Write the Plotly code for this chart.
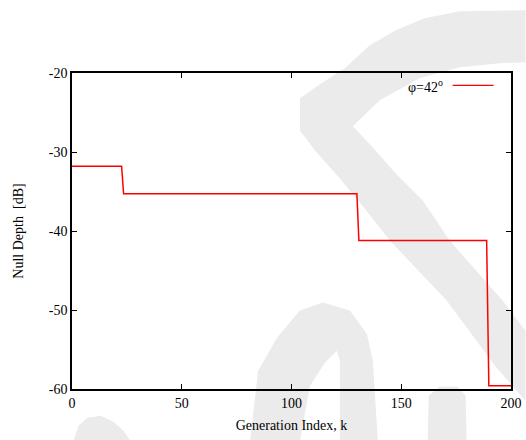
import plotly.graph_objects as go

# ---- data ----
generation_k = [0, 22.6, 23.5, 129.8, 130.7, 188.9, 189.9, 200]
null_depth_db = [-31.8, -31.8, -35.3, -35.3, -41.2, -41.2, -59.6, -59.6]
series_name = "φ=42<sup>o</sup>"
x_ticks = [0, 50, 100, 150, 200]
y_ticks = [-60, -50, -40, -30, -20]

W, H = 526, 440
ML, MR, MT, MB = 72, 15, 73, 51
# intended drawing box in page pixels (used for decorations)
BX0, BX1, BY0, BY1 = 71.5, 511.5, 72.7, 388.3

def to_paper(px, py):
    return (px - BX0) / (BX1 - BX0), (BY1 - py) / (BY1 - BY0)

def path(points):
    pts = [to_paper(x, y) for x, y in points]
    return "M " + " L ".join(f"{x:.4f},{y:.4f}" for x, y in pts) + " Z"

# background watermark (decoration)
wm_polys = [
    [(526, 10), (460, 11), (425, 18), (396, 30), (370, 45), (345, 68), (320, 84), (300, 98),
     (300, 130), (315, 150), (340, 178), (364, 207), (390, 240), (447, 300), (497, 367), (526, 400),
     (526, 330), (503, 300), (450, 240), (423, 200), (396, 173), (373, 147), (353, 126),
     (380, 100), (420, 78), (460, 67), (500, 63), (526, 62)],
    [(250, 440), (258, 370), (277, 337), (300, 310), (323, 302), (350, 310), (367, 333),
     (373, 360), (378, 440), (340, 440), (340, 360), (337, 350), (325, 362), (310, 385), (300, 440)],
    [(428, 440), (429, 395), (440, 386), (458, 386), (466, 395), (467, 440)],
    [(73, 440), (78, 425), (87, 417), (100, 415), (113, 421), (123, 430), (130, 440)],
]

shapes = [dict(type="path", xref="paper", yref="paper", path=path(p),
               fillcolor="#ebebeb", line=dict(width=0), layer="below") for p in wm_polys]

# legend sample line
lx0, ly = to_paper(453, 85)
lx1, _ = to_paper(494, 85)
shapes.append(dict(type="line", xref="paper", yref="paper", x0=lx0, x1=lx1, y0=ly, y1=ly,
                   line=dict(color="red", width=1.3)))
tx, ty = to_paper(445, 86)

fig = go.Figure()
fig.add_trace(go.Scatter(x=generation_k, y=null_depth_db, mode="lines",
                         line=dict(color="red", width=1.5), name=series_name,
                         showlegend=False))

font = dict(family="Liberation Serif", size=14, color="black")
axis_common = dict(showline=True, linecolor="black", linewidth=1.5, mirror="ticks",
                   ticks="inside", ticklen=5, tickwidth=1, tickcolor="black",
                   showgrid=False, zeroline=False, tickfont=font, automargin=False)

fig.update_layout(
    width=W, height=H, autosize=False,
    margin=dict(l=ML, r=MR, t=MT, b=MB, pad=0, autoexpand=False),
    paper_bgcolor="white", plot_bgcolor="rgba(0,0,0,0)",
    font=font,
    shapes=shapes,
    showlegend=False,
    xaxis=dict(range=[0, 200], tickvals=x_ticks, ticktext=[str(v) for v in x_ticks],
               title=dict(text="Generation Index, k", font=font, standoff=11), **axis_common),
    yaxis=dict(range=[-60, -20], tickvals=y_ticks, ticktext=[str(v) for v in y_ticks],
               title=dict(text="Null Depth  [dB]", font=font, standoff=22), **axis_common),
    annotations=[dict(xref="paper", yref="paper", x=tx, y=ty, xanchor="right", yanchor="middle",
                      text=series_name, showarrow=False, font=font)],
)

fig.write_html("out.html")
